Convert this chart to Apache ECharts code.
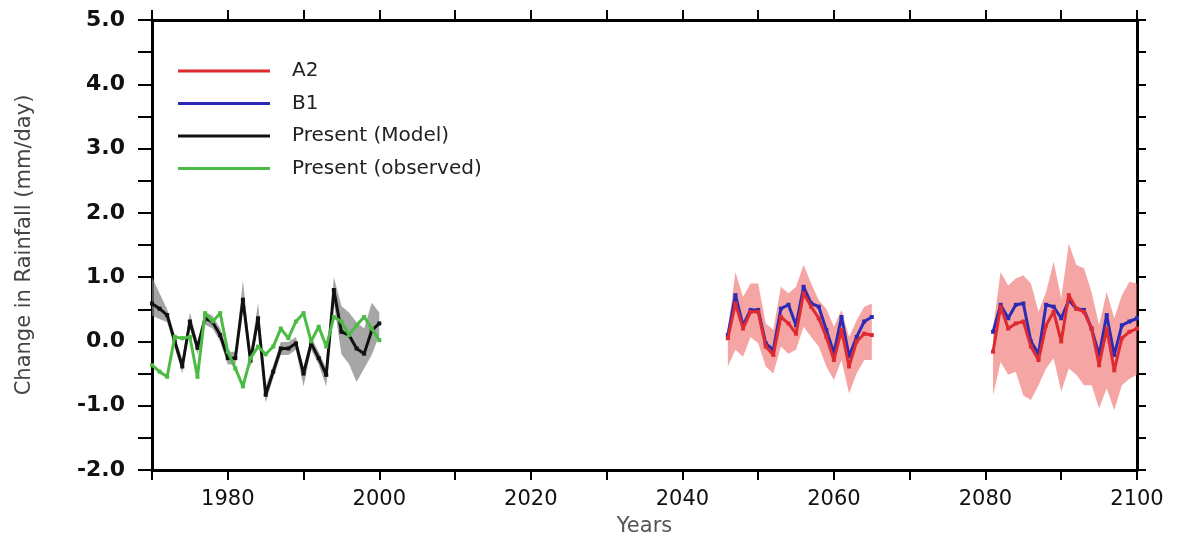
<!DOCTYPE html>
<html>
<head>
<meta charset="utf-8">
<script src="https://cdn.jsdelivr.net/npm/echarts@6/dist/echarts.min.js"></script>
<style>
  html, body { margin: 0; padding: 0; background: #fff; }
  #chart { width: 1186px; height: 535px; }
</style>
</head>
<body>
<div id="chart"></div>
<script>
// years
const histYears = [1970, 1971, 1972, 1973, 1974, 1975, 1976, 1977, 1978, 1979, 1980,
  1981, 1982, 1983, 1984, 1985, 1986, 1987, 1988, 1989, 1990,
  1991, 1992, 1993, 1994, 1995, 1996, 1997, 1998, 1999, 2000];
const midYears = [2046, 2047, 2048, 2049, 2050, 2051, 2052, 2053, 2054, 2055,
  2056, 2057, 2058, 2059, 2060, 2061, 2062, 2063, 2064, 2065];
const endYears = [2081, 2082, 2083, 2084, 2085, 2086, 2087, 2088, 2089, 2090,
  2091, 2092, 2093, 2094, 2095, 2096, 2097, 2098, 2099, 2100];

// present (model) + spread
const modelMean = [0.59, 0.51, 0.41, 0.0, -0.39, 0.31, -0.1, 0.36, 0.3, 0.1, -0.26,
  -0.26, 0.65, -0.3, 0.36, -0.83, -0.47, -0.11, -0.11, -0.03, -0.5,
  -0.03, -0.26, -0.52, 0.8, 0.15, 0.1, -0.11, -0.19, 0.17, 0.28];
const modelUpper = [1.0, 0.75, 0.5, 0.1, -0.28, 0.45, 0.0, 0.46, 0.4, 0.2, -0.16,
  -0.16, 0.95, -0.2, 0.6, -0.7, -0.37, -0.01, -0.01, 0.07, -0.4,
  0.07, -0.16, -0.42, 1.0, 0.55, 0.45, 0.3, 0.2, 0.6, 0.45];
const modelLower = [0.4, 0.35, 0.3, -0.1, -0.5, 0.2, -0.2, 0.26, 0.2, 0.0, -0.36,
  -0.36, 0.5, -0.4, 0.25, -0.95, -0.57, -0.21, -0.21, -0.13, -0.7,
  -0.13, -0.36, -0.7, 0.6, -0.2, -0.35, -0.63, -0.42, -0.21, 0.1];

// present (observed)
const observed = [-0.37, -0.47, -0.55, 0.07, 0.05, 0.07, -0.55, 0.44, 0.31, 0.44, -0.16,
  -0.42, -0.7, -0.26, -0.08, -0.2, -0.08, 0.2, 0.05, 0.31, 0.44,
  0.0, 0.23, -0.08, 0.38, 0.31, 0.1, 0.25, 0.38, 0.2, 0.02];

// A2 / B1, 2046-2065
const a2Mid = [0.05, 0.59, 0.2, 0.46, 0.46, -0.08, -0.21, 0.38, 0.28, 0.12,
  0.75, 0.54, 0.36, 0.07, -0.29, 0.18, -0.39, 0.0, 0.12, 0.1];
const b1Mid = [0.1, 0.72, 0.25, 0.49, 0.49, -0.03, -0.13, 0.51, 0.57, 0.25,
  0.85, 0.59, 0.54, 0.18, -0.18, 0.38, -0.23, 0.07, 0.31, 0.38];
const a2MidUpper = [0.18, 1.08, 0.69, 0.9, 0.9, 0.28, 0.18, 0.85, 0.75, 0.85,
  1.19, 0.9, 0.64, 0.51, 0.23, 0.49, 0.07, 0.33, 0.54, 0.59];
const a2MidLower = [-0.39, -0.13, -0.24, 0.07, -0.03, -0.39, -0.5, -0.08, -0.19, -0.13,
  0.23, 0.07, -0.08, -0.39, -0.6, -0.29, -0.81, -0.5, -0.29, -0.29];

// A2 / B1, 2081-2100
const a2End = [-0.16, 0.54, 0.2, 0.28, 0.31, -0.08, -0.29, 0.25, 0.46, 0.0,
  0.72, 0.51, 0.46, 0.2, -0.37, 0.2, -0.45, 0.05, 0.15, 0.2];
const b1End = [0.15, 0.57, 0.36, 0.57, 0.59, 0.0, -0.19, 0.57, 0.54, 0.36,
  0.64, 0.51, 0.49, 0.2, -0.21, 0.41, -0.21, 0.25, 0.31, 0.36];
const a2EndUpper = [0.2, 1.08, 0.87, 0.98, 1.03, 0.9, 0.46, 0.77, 1.24, 0.67,
  1.52, 1.19, 1.14, 0.77, 0.25, 0.77, 0.36, 0.72, 0.93, 0.9];
const a2EndLower = [-0.84, -0.32, -0.52, -0.47, -0.84, -0.91, -0.68, -0.42, -0.26, -0.78,
  -0.42, -0.52, -0.68, -0.68, -1.04, -0.73, -1.07, -0.68, -0.58, -0.52];

const FONT = 'DejaVu Sans';

function pairs(xs, ys) {
  return xs.map((x, i) => [x, ys[i]]);
}

// shaded spread drawn as one polygon through the axes' own coord()
function band(xs, lo, hi, fill) {
  return {
    type: 'custom',
    silent: true,
    z: 1,
    data: xs.map((x, i) => [x, lo[i], hi[i]]),
    encode: { x: 0, y: [1, 2] },
    renderItem: function (params, api) {
      if (params.dataIndex !== 0) return;
      const pts = [];
      for (let i = 0; i < xs.length; i++) pts.push(api.coord([xs[i], hi[i]]));
      for (let i = xs.length - 1; i >= 0; i--) pts.push(api.coord([xs[i], lo[i]]));
      return { type: 'polygon', shape: { points: pts }, style: { fill: fill } };
    }
  };
}

function line(name, data, color, z) {
  return {
    name: name,
    type: 'line',
    data: data,
    z: z,
    symbol: 'rect',
    symbolSize: 4,
    showSymbol: true,
    lineStyle: { color: color, width: 3 },
    itemStyle: { color: color },
    animation: false
  };
}

const chart = echarts.init(document.getElementById('chart'));
const option = {
  animation: false,
  backgroundColor: '#fff',
  grid: { left: 152, right: 49, top: 20, bottom: 65, outerBoundsMode: 'none', containLabel: false },
  legend: {
    data: ['A2', 'B1', 'Present (Model)', 'Present (observed)'],
    orient: 'vertical',
    left: 178,
    top: 60,
    padding: 0,
    icon: 'rect',
    itemWidth: 92,
    itemHeight: 3,
    itemGap: 10.5,
    textStyle: { fontFamily: FONT, fontSize: 20, color: '#222', lineHeight: 22, padding: [0, 0, 0, 17] }
  },
  xAxis: [
    {
      type: 'value', min: 1970, max: 2100, interval: 10, position: 'bottom',
      name: 'Years', nameLocation: 'middle', nameGap: 46,
      nameTextStyle: { fontFamily: FONT, fontSize: 21, color: '#555' },
      axisLine: { onZero: false, lineStyle: { color: '#000', width: 3 } },
      axisTick: { inside: false, length: 10, lineStyle: { color: '#000', width: 2 } },
      axisLabel: {
        fontFamily: FONT, fontSize: 21, color: '#111', margin: 19,
        formatter: v => (v % 20 === 0 ? String(v) : '')
      },
      splitLine: { show: false }
    },
    {
      type: 'value', min: 1970, max: 2100, interval: 10, position: 'top',
      axisLine: { onZero: false, lineStyle: { color: '#000', width: 3 } },
      axisTick: { inside: false, length: 10, lineStyle: { color: '#000', width: 2 } },
      axisLabel: { show: false },
      splitLine: { show: false }
    }
  ],
  yAxis: [
    {
      type: 'value', min: -2, max: 5, interval: 0.5, position: 'left',
      name: 'Change in Rainfall (mm/day)', nameLocation: 'middle', nameGap: 117,
      nameTextStyle: { fontFamily: FONT, fontSize: 21, color: '#444' },
      axisLine: { onZero: false, lineStyle: { color: '#000', width: 3 } },
      axisTick: { inside: false, length: 14, lineStyle: { color: '#000', width: 2 } },
      axisLabel: {
        fontFamily: FONT, fontSize: 22, fontWeight: 'bold', color: '#111', margin: 27,
        formatter: v => (Math.abs(v - Math.round(v)) < 1e-9 ? v.toFixed(1) : '')
      },
      splitLine: { show: false }
    },
    {
      type: 'value', min: -2, max: 5, interval: 0.5, position: 'right',
      axisLine: { onZero: false, lineStyle: { color: '#000', width: 3 } },
      axisTick: { inside: false, length: 9, lineStyle: { color: '#000', width: 2 } },
      axisLabel: { show: false },
      splitLine: { show: false }
    }
  ],
  series: [
    band(histYears, modelLower, modelUpper, 'rgba(128,128,128,0.7)'),
    band(midYears, a2MidLower, a2MidUpper, 'rgba(236,100,98,0.58)'),
    band(endYears, a2EndLower, a2EndUpper, 'rgba(236,100,98,0.58)'),
    line('Present (Model)', pairs(histYears, modelMean), '#111111', 3),
    line('Present (observed)', pairs(histYears, observed), '#4cbb45', 4),
    line('B1', pairs(midYears, b1Mid), '#2b2bb5', 3),
    line('B1', pairs(endYears, b1End), '#2b2bb5', 3),
    line('A2', pairs(midYears, a2Mid), '#de2a30', 4),
    line('A2', pairs(endYears, a2End), '#de2a30', 4)
  ]
};
chart.setOption(option);
</script>
</body>
</html>
